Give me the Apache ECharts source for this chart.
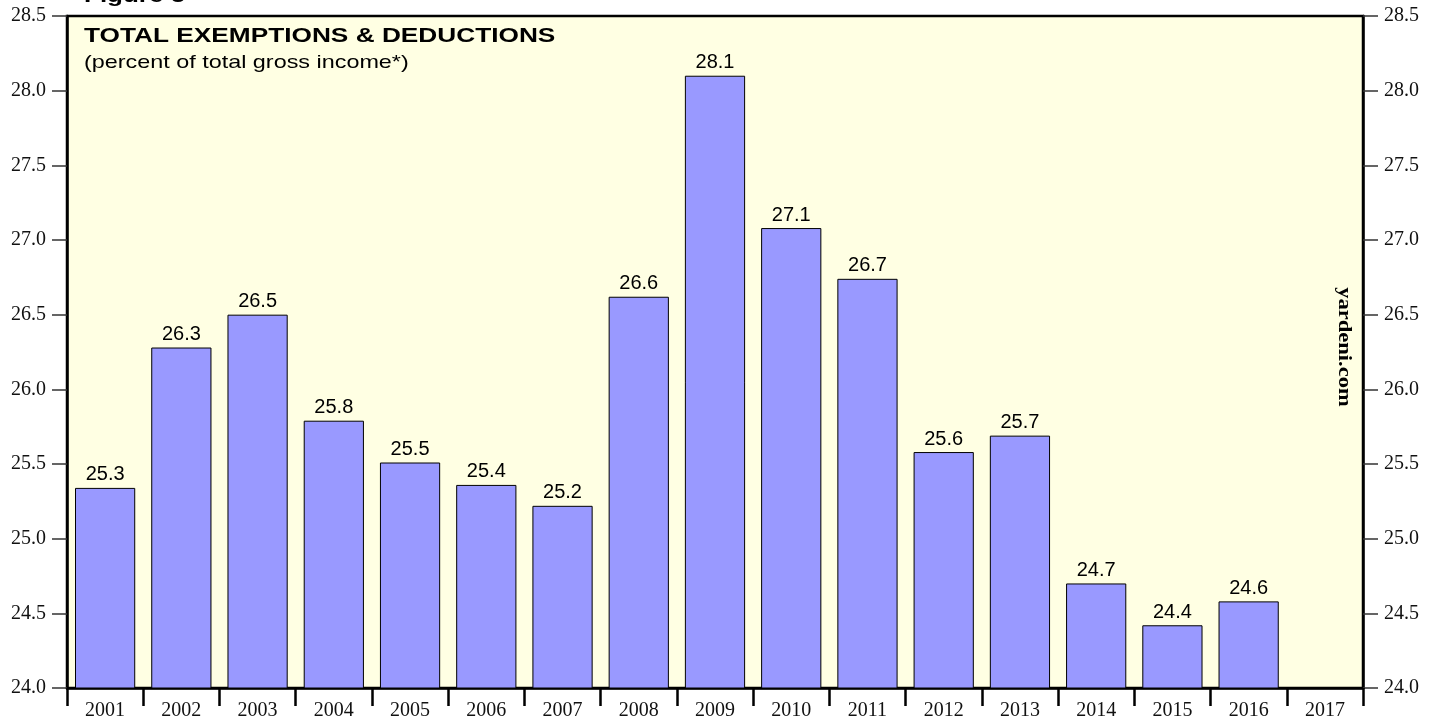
<!DOCTYPE html>
<html>
<head>
<meta charset="utf-8">
<script src="https://cdn.jsdelivr.net/npm/echarts@6/dist/echarts.min.js"></script>
<style>
  html, body { margin: 0; padding: 0; background: #fff; }
  #chart { width: 1441px; height: 717px; }
</style>
</head>
<body>
<div id="chart"></div>
<script>
var years = ['2001', '2002', '2003', '2004', '2005', '2006', '2007', '2008', '2009',
    '2010', '2011', '2012', '2013', '2014', '2015', '2016', '2017'];
var values = [25.34, 26.28, 26.50, 25.79, 25.51, 25.36, 25.22, 26.62, 28.10,
    27.08, 26.74, 25.58, 25.69, 24.70, 24.42, 24.58, null];
var yMin = 24.0, yMax = 28.5, yStep = 0.5;

var chart = echarts.init(document.getElementById('chart'));

function yAxisCfg(pos) {
    return {
        type: 'value',
        position: pos,
        min: yMin,
        max: yMax,
        interval: yStep,
        axisLine: { show: true, lineStyle: { color: '#000', width: 2.5 } },
        axisTick: { show: true, length: 15, lineStyle: { color: '#333', width: 1.5 } },
        splitLine: { show: false },
        axisLabel: {
            margin: 21,
            color: '#111',
            fontFamily: 'Liberation Serif',
            fontSize: 20,
            formatter: function (v) { return v.toFixed(1); }
        }
    };
}

var option = {
    animation: false,
    grid: {
        left: 67, right: 78, top: 16, bottom: 29,
        outerBoundsMode: 'none',
        containLabel: false,
        show: true,
        backgroundColor: '#FFFFE3',
        borderColor: '#000',
        borderWidth: 2.5
    },
    graphic: [
        {
            type: 'text', x: 84, y: 6, scaleX: 1.3,
            style: { text: 'Figure 5', font: 'bold 20px "Liberation Sans"', fill: '#000', verticalAlign: 'bottom' }
        },
        {
            type: 'text', x: 84, y: 26, scaleX: 1.28,
            style: { text: 'TOTAL EXEMPTIONS & DEDUCTIONS', font: 'bold 20.5px "Liberation Sans"', fill: '#000', verticalAlign: 'top' }
        },
        {
            type: 'text', x: 84, y: 53, scaleX: 1.23,
            style: { text: '(percent of total gross income*)', font: '19px "Liberation Sans"', fill: '#000', verticalAlign: 'top' }
        },
        {
            type: 'text', x: 1344, y: 347, scaleX: 1.25,
            rotation: -Math.PI / 2,
            style: {
                text: 'yardeni.com',
                font: 'bold 18px "Liberation Serif"',
                fill: '#000',
                align: 'center',
                verticalAlign: 'middle'
            }
        }
    ],
    xAxis: {
        type: 'category',
        data: years,
        boundaryGap: true,
        axisLine: { show: true, lineStyle: { color: '#000', width: 2.5 } },
        axisTick: { show: true, interval: 0, length: 18, lineStyle: { color: '#000', width: 2.5 } },
        axisLabel: {
            interval: 0,
            margin: 13,
            color: '#111',
            fontFamily: 'Liberation Serif',
            fontSize: 20
        }
    },
    yAxis: [yAxisCfg('left'), yAxisCfg('right')],
    series: [{
        type: 'bar',
        data: values,
        barCategoryGap: '21%',
        itemStyle: { color: '#9999FF', borderColor: '#000', borderWidth: 1 },
        label: {
            show: true,
            position: 'top',
            distance: 3,
            color: '#000',
            fontFamily: 'Liberation Sans',
            fontSize: 20,
            formatter: function (p) { return p.value == null ? '' : p.value.toFixed(1); }
        }
    }]
};
chart.setOption(option);
window.addEventListener('resize', chart.resize);
</script>
</body>
</html>
